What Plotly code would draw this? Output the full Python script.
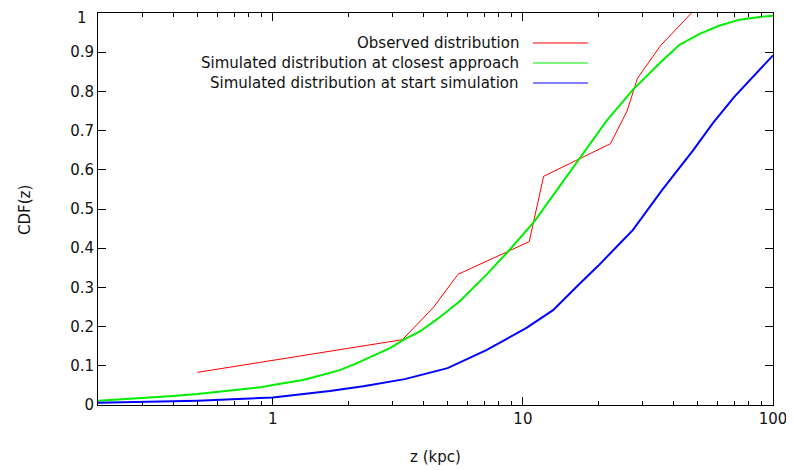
import plotly.graph_objects as go

# Observed distribution
obs_z = [0.5, 3.3, 4.4, 5.5, 10.6, 12.1, 22.4, 26.1, 28.7, 35.5, 47.2]
obs_cdf = [1/12, 2/12, 3/12, 4/12, 5/12, 7/12, 8/12, 9/12, 10/12, 11/12, 12/12]

# Simulated distribution at closest approach
close_z = [0.2, 0.3, 0.4, 0.5, 0.6, 0.72, 0.89, 1.0, 1.32, 1.59, 1.85, 2.16, 2.52, 2.94,
           3.37, 3.86, 4.5, 5.58, 7.14, 8.71, 11.1, 14.0, 16.9, 21.6, 27.5, 35.2, 42.3,
           50.9, 61.2, 73.5, 88.5, 100.0]
close_cdf = [0.011, 0.017, 0.023, 0.028, 0.033, 0.038, 0.045, 0.051, 0.064, 0.077, 0.089,
             0.106, 0.125, 0.145, 0.168, 0.187, 0.217, 0.264, 0.332, 0.391, 0.468, 0.557,
             0.629, 0.725, 0.804, 0.872, 0.919, 0.947, 0.968, 0.983, 0.990, 0.993]

# Simulated distribution at start simulation
start_z = [0.2, 0.5, 1.0, 1.69, 2.3, 3.37, 5.0, 7.14, 10.3, 13.2, 16.9, 20.0, 24.4, 27.5,
           36.0, 48.0, 57.5, 70.0, 100.0]
start_cdf = [0.006, 0.011, 0.019, 0.036, 0.048, 0.066, 0.094, 0.14, 0.196, 0.242, 0.31,
             0.355, 0.412, 0.446, 0.548, 0.65, 0.719, 0.786, 0.892]

y_ticks = [0, 0.1, 0.2, 0.3, 0.4, 0.5, 0.6, 0.7, 0.8, 0.9]
y_top_label = "1"

labels = ["Observed distribution",
          "Simulated distribution at closest approach",
          "Simulated distribution at start simulation"]
colors = ["#ff0000", "#00ee00", "#0000ff"]

FONT = "DejaVu Sans"
TXT = "#111111"
fig = go.Figure()
fig.add_trace(go.Scatter(x=obs_z, y=obs_cdf, mode="lines", name=labels[0],
                         line=dict(color=colors[0], width=1)))
fig.add_trace(go.Scatter(x=close_z, y=close_cdf, mode="lines", name=labels[1],
                         line=dict(color=colors[1], width=2)))
fig.add_trace(go.Scatter(x=start_z, y=start_cdf, mode="lines", name=labels[2],
                         line=dict(color=colors[2], width=2)))

# page offset (body margin) of 8 px
OFF = 8
W, H = 794 - OFF, 470 - OFF
PL, PR, PT, PB = 98, 773, 13, 405   # plot box in page pixels
L, T = PL - OFF, PT - OFF
R, B = OFF + W - PR, OFF + H - PB
pw, ph = PR - PL, PB - PT

def px2paper(x, y):
    return (x - PL) / pw, (PB - y) / ph

for i, (lab, col) in enumerate(zip(labels, colors)):
    yy = 43 + 20 * i
    tx, ty = px2paper(521, yy)
    fig.add_annotation(x=tx, y=ty, xref="paper", yref="paper", text=lab,
                       showarrow=False, xanchor="right", yanchor="middle",
                       font=dict(family=FONT, size=15, color=TXT))
    x0, y0 = px2paper(533, yy)
    x1, _ = px2paper(588, yy)
    fig.add_shape(type="line", xref="paper", yref="paper", x0=x0, x1=x1, y0=y0, y1=y0,
                  line=dict(color=col, width=1))

# top y tick label (kept inside the page)
lx, ly = px2paper(88, OFF)
fig.add_annotation(x=lx, y=ly, xref="paper", yref="paper", text=y_top_label,
                   showarrow=False, xanchor="right", yanchor="top", borderpad=0,
                   font=dict(family=FONT, size=15, color=TXT))

# axis titles
ax, ay = px2paper(435, 457)
fig.add_annotation(x=ax, y=ay, xref="paper", yref="paper", text="z (kpc)",
                   showarrow=False, xanchor="center", yanchor="middle",
                   font=dict(family=FONT, size=15, color=TXT))
bx, by = px2paper(25, 210)
fig.add_annotation(x=bx, y=by, xref="paper", yref="paper", text="CDF(z)",
                   showarrow=False, xanchor="center", yanchor="middle", textangle=-90,
                   font=dict(family=FONT, size=15, color=TXT))

fig.update_layout(
    width=W, height=H,
    margin=dict(l=L, r=R, t=T, b=B, autoexpand=False),
    paper_bgcolor="white", plot_bgcolor="white",
    showlegend=False,
    font=dict(family=FONT, size=15, color=TXT),
)
fig.update_xaxes(type="log", range=[-0.69897, 2.0], tickmode="linear", tick0=0, dtick=1,
                 automargin=False, ticklabeloverflow="allow",
                 showline=True, linecolor="black", linewidth=1, mirror="ticks",
                 ticks="inside", ticklen=8, tickcolor="black", showgrid=False,
                 zeroline=False,
                 minor=dict(ticks="inside", dtick="D1", ticklen=4, tickcolor="black",
                            showgrid=False))
fig.update_yaxes(range=[0, 1], tickmode="array", tickvals=y_ticks,
                 ticktext=[f"{v:g}" for v in y_ticks], automargin=False,
                 ticklabeloverflow="allow",
                 showline=True, linecolor="black", linewidth=1, mirror="ticks",
                 ticks="inside", ticklen=8, tickcolor="black", showgrid=False,
                 zeroline=False)

fig.write_html("out.html")
